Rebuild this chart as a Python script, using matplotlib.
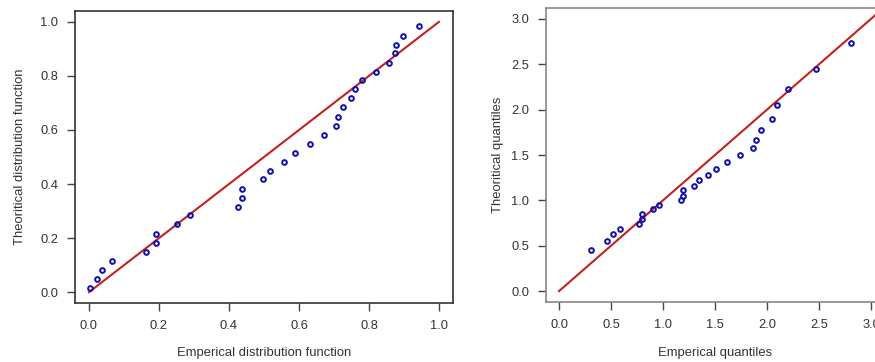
import matplotlib
matplotlib.use("Agg")
import matplotlib.pyplot as plt

plt.rcParams['font.family'] = ['Liberation Sans', 'DejaVu Sans']

# Left panel: P-P plot
emp_cdf = [0.003, 0.023, 0.037, 0.066, 0.164, 0.191, 0.191, 0.251, 0.289, 0.426,
           0.438, 0.438, 0.497, 0.518, 0.557, 0.590, 0.631, 0.671, 0.707, 0.712,
           0.726, 0.748, 0.760, 0.779, 0.820, 0.857, 0.873, 0.878, 0.897, 0.943]
theo_cdf = [0.016, 0.049, 0.083, 0.116, 0.148, 0.181, 0.215, 0.251, 0.284, 0.316,
            0.349, 0.383, 0.419, 0.449, 0.483, 0.516, 0.549, 0.581, 0.615, 0.648,
            0.684, 0.717, 0.751, 0.784, 0.816, 0.849, 0.883, 0.916, 0.949, 0.983]

# Right panel: Q-Q plot
emp_q = [0.31, 0.46, 0.52, 0.59, 0.77, 0.80, 0.80, 0.90, 0.96, 1.17,
         1.195, 1.195, 1.30, 1.35, 1.43, 1.51, 1.62, 1.74, 1.87, 1.89,
         1.94, 2.05, 2.10, 2.20, 2.47, 2.81]
theo_q = [0.45, 0.55, 0.63, 0.68, 0.74, 0.80, 0.85, 0.90, 0.95, 1.00,
          1.05, 1.11, 1.16, 1.22, 1.28, 1.35, 1.42, 1.50, 1.58, 1.67,
          1.78, 1.90, 2.05, 2.23, 2.45, 2.73]

left_ticks = [0.0, 0.2, 0.4, 0.6, 0.8, 1.0]
right_ticks = [0.0, 0.5, 1.0, 1.5, 2.0, 2.5, 3.0]

W, H = 875, 362
fig = plt.figure(figsize=(W / 100, H / 100), dpi=100)

def box(x0, x1, ytop, ybot):
    return [x0 / W, 1 - ybot / H, (x1 - x0) / W, (ybot - ytop) / H]

ax1 = fig.add_axes(box(75, 453, 11, 303))
ax2 = fig.add_axes(box(546, 883.5, 8, 302))

pt_color = '#1010A8'
line_color = '#C42020'
txt_color = '#333333'

def style(ax, ticks, xlim, ylim, frame_color, xlabel, ylabel, xl_y, yl_x):
    ax.set_xlim(*xlim)
    ax.set_ylim(*ylim)
    ax.set_xticks(ticks)
    ax.set_yticks(ticks)
    ax.set_xticklabels([f"{t:.1f}" for t in ticks])
    ax.set_yticklabels([f"{t:.1f}" for t in ticks])
    for s in ax.spines.values():
        s.set_color(frame_color)
        s.set_linewidth(1.2)
    ax.tick_params(direction='out', length=6, width=1.0, color='#444444',
                   labelsize=9.3, labelcolor=txt_color, pad=6)
    ax.set_xlabel(xlabel, fontsize=9.4, color=txt_color)
    ax.set_ylabel(ylabel, fontsize=9.4, color=txt_color)
    ax.xaxis.set_label_coords(0.5, xl_y)
    ax.yaxis.set_label_coords(yl_x, 0.5)

ax1.plot([0, 1], [0, 1], color=line_color, lw=1.5, zorder=2)
ax1.plot(emp_cdf, theo_cdf, linestyle='none', marker='o', ms=3.4, mfc='none',
         mec=pt_color, mew=1.4, zorder=3)
style(ax1, left_ticks, (-0.04, 1.04), (-0.04, 1.04), '#333333',
      'Emperical distribution function', 'Theoritical distribution function',
      -0.150, -0.130)

ax2.plot([0, 3.2], [0, 3.2], color=line_color, lw=1.5, zorder=2)
ax2.plot(emp_q, theo_q, linestyle='none', marker='o', ms=3.4, mfc='none',
         mec=pt_color, mew=1.4, zorder=3)
style(ax2, right_ticks, (-0.125, 3.12), (-0.12, 3.12), '#888888',
      'Emperical quantiles', 'Theoritical quantiles', -0.152, -0.124)

fig.savefig('out.png', dpi=100)
